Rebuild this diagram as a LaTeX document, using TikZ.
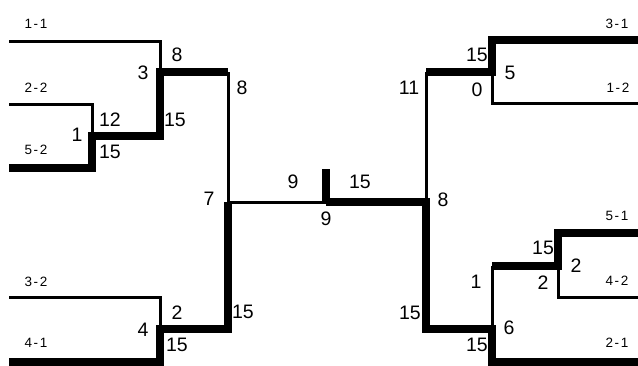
\documentclass[tikz,border=0pt]{standalone}
\usepackage{fontspec}
\setmainfont{Liberation Sans}
\usetikzlibrary{positioning}

\newcommand{\pair}[2]{#1\kern1.6pt-\kern1.6pt#2}

\begin{document}
\begin{tikzpicture}[x=1pt, y=-1pt,
    thinline/.style={line width=3pt},
    thickline/.style={line width=7.5pt},
    score/.style={font=\fontsize{19.5}{20}\selectfont, inner sep=0pt},
    team/.style={font=\fontsize{13.5}{14}\selectfont, inner sep=0pt}]
    \useasboundingbox (0,0) rectangle (638,365);

    % Left half: entry points and match junctions
    \coordinate (p11) at (9,41);   \coordinate (m3t) at (160,41);
    \coordinate (p22) at (9,104);  \coordinate (m1t) at (92,104);
    \coordinate (p52) at (9,168);  \coordinate (m1b) at (92,168);
    \coordinate (m1w) at (92,136); \coordinate (m3b) at (160,136);
    \coordinate (m3w) at (160,72); \coordinate (m7t) at (228,72);
    \coordinate (p32) at (9,297);  \coordinate (m4t) at (160,297);
    \coordinate (p41) at (9,362);  \coordinate (m4b) at (160,362);
    \coordinate (m4w) at (160,329);\coordinate (m7b) at (228,329);
    \coordinate (m7w) at (228,202);

    % Centre
    \coordinate (fin) at (326,202);
    \coordinate (fintop) at (326,169);

    % Right half
    \coordinate (m8w) at (426,202);
    \coordinate (m8t) at (426,72);  \coordinate (m5w) at (492,72);
    \coordinate (m8b) at (426,329); \coordinate (m6w) at (492,329);
    \coordinate (m5t) at (492,40);  \coordinate (p31) at (638,40);
    \coordinate (m5b) at (492,103); \coordinate (p12) at (638,103);
    \coordinate (m6t) at (492,266); \coordinate (m2w) at (558,266);
    \coordinate (m6b) at (492,362); \coordinate (p21) at (638,362);
    \coordinate (m2t) at (558,233); \coordinate (p51) at (638,233);
    \coordinate (m2b) at (558,297); \coordinate (p42) at (638,297);

    % Losing paths
    \draw[thinline] (p11) -- (m3t) -- (m3w);
    \draw[thinline] (p22) -- (m1t) -- (m1w);
    \draw[thinline] (p32) -- (m4t) -- (m4w);
    \draw[thinline] (m7t) -- (m7w) -- (fin);
    \draw[thinline] (p12) -- (m5b) -- (m5w);
    \draw[thinline] (m8t) -- (m8w);
    \draw[thinline] (m6t) -- (m6w);
    \draw[thinline] (p42) -- (m2b) -- (m2w);

    % Winning paths
    \draw[thickline] (p52) -- (m1b) -- (m1w) -- (m3b) -- (m3w) -- (m7t);
    \draw[thickline] (p41) -- (m4b) -- (m4w) -- (m7b) -- (m7w);
    \draw[thickline] (p31) -- (m5t) -- (m5w) -- (m8t);
    \draw[thickline] (p51) -- (m2t) -- (m2w) -- (m6t);
    \draw[thickline] (p21) -- (m6b) -- (m6w) -- (m8b) -- (m8w) -- (fin);
    \draw[thickline] (fintop) -- (fin);

    % Team labels
    \foreach \n/\x/\y/\a/\b in {t11/36/24/1/1, t22/36/88/2/2, t52/36/150/5/2,
        t32/36/282/3/2, t41/36/343/4/1, t31/617/24/3/1, t12/618/88/1/2,
        t51/617/216/5/1, t42/617/281/4/2, t21/617/343/2/1} {
        \node[team] (\n) at (\x,\y) {\pair{\a}{\b}};
    }

    % Match numbers and scores
    \foreach \n/\x/\y/\t in {mA/77/135/1, sA1/110/120/12, sA2/110/152/15,
        mB/143/73/3, sB1/177/55/8, sB2/175/120/15,
        mC/143/330/4, sC1/177/313/2, sC2/177/345/15,
        mD/209/199/7, sD1/242/88/8, sD2/243/312/15, sD3/293/182/9,
        sE1/360/182/15, mE/326/219/9,
        mF/443/200/8, sF1/409/88/11, sF2/410/313/15,
        mG/510/73/5, sG1/477/55/15, sG2/477/90/0,
        mH/509/328/6, sH1/476/282/1, sH2/477/345/15,
        mI/576/266/2, sI1/543/248/15, sI2/543/283/2} {
        \node[score] (\n) at (\x,\y) {\t};
    }
\end{tikzpicture}
\end{document}
